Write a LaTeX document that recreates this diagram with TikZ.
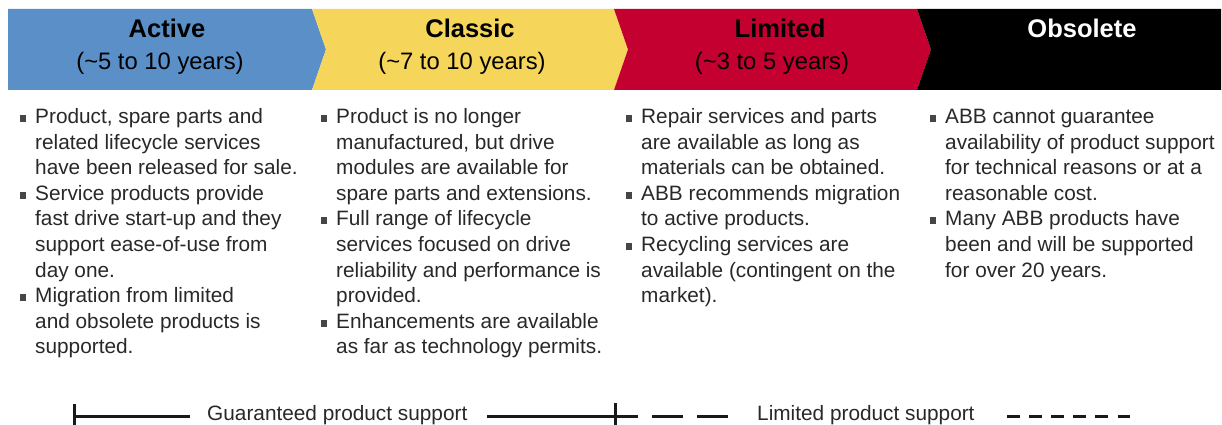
\documentclass[tikz,border=0pt]{standalone}
\usepackage{fontspec}
\setmainfont{Liberation Sans}
\definecolor{actblue}{RGB}{91,143,199}
\definecolor{clsyel}{RGB}{245,214,90}
\definecolor{limred}{RGB}{195,0,47}
\definecolor{bodytxt}{RGB}{40,40,40}
\definecolor{bulgray}{RGB}{70,70,70}
\newcommand\mycolumn[3]{%
  \foreach \bul/\txt [count=\i] in {#3}{%
    \pgfmathsetmacro\yy{123.5+(\i-1)*25.6}%
    \node[bodytext] (#2\i) at (#1,\yy) {\txt};%
    \ifnum\bul=1 \fill[bulgray] (#1-15.5,\yy-1.6) rectangle (#1-8.6,\yy-8.5);\fi
  }}
\begin{document}
\begin{tikzpicture}[x=1pt,y=-1pt,
  bodytext/.style={anchor=base west,inner sep=0pt,text=bodytxt,font=\fontsize{20.8}{25}\selectfont},
  phasetitle/.style={anchor=base,inner sep=0pt,font=\bfseries\fontsize{25.5}{28}\selectfont},
  phasesub/.style={anchor=base,inner sep=0pt,font=\fontsize{23.8}{28}\selectfont},
  legtext/.style={anchor=base west,inner sep=0pt,text=bodytxt,font=\fontsize{20.8}{25}\selectfont},
  legline/.style={line width=3pt,black!90}]
\useasboundingbox (0,0) rectangle (1222,425);
% header chevrons
\fill[actblue] (8,9) -- (312,9) -- (326,49.5) -- (312,90) -- (8,90) -- cycle;
\fill[clsyel] (312,9) -- (614,9) -- (628,49.5) -- (614,90) -- (312,90) -- (326,49.5) -- cycle;
\fill[limred] (614,9) -- (917,9) -- (931,49.5) -- (917,90) -- (614,90) -- (628,49.5) -- cycle;
\fill[black] (917,9) -- (1221,9) -- (1221,90) -- (917,90) -- (931,49.5) -- cycle;
% titles
\node[phasetitle] (tact) at (167,37.5) {Active};
\node[phasesub] (sact) at (160,70) {(\textasciitilde 5 to 10 years)};
\node[phasetitle] (tcls) at (470,37.5) {Classic};
\node[phasesub] (scls) at (462,70) {(\textasciitilde 7 to 10 years)};
\node[phasetitle] (tlim) at (780,37.5) {Limited};
\node[phasesub] (slim) at (772,70) {(\textasciitilde 3 to 5 years)};
\node[phasetitle,text=white] (tobs) at (1082,37.5) {Obsolete};
% columns
\mycolumn{35}{ca}{1/{Product, spare parts and},0/{related lifecycle services},0/{have been released for sale.},1/{Service products provide},0/{fast drive start-up and they},0/{support ease-of-use from},0/{day one.},1/{Migration from limited},0/{and obsolete products is},0/{supported.}}
\mycolumn{336}{cb}{1/{Product is no longer},0/{manufactured, but drive},0/{modules are available for},0/{spare parts and extensions.},1/{Full range of lifecycle},0/{services focused on drive},0/{reliability and performance is},0/{provided.},1/{Enhancements are available},0/{as far as technology permits.}}
\mycolumn{641}{cc}{1/{Repair services and parts},0/{are available as long as},0/{materials can be obtained.},1/{ABB recommends migration},0/{to active products.},1/{Recycling services are},0/{available (contingent on the},0/{market).}}
\mycolumn{945}{cd}{1/{ABB cannot guarantee},0/{availability of product support},0/{for technical reasons or at a},0/{reasonable cost.},1/{Many ABB products have},0/{been and will be supported},0/{for over 20 years.}}
% legend
\coordinate (gstart) at (74,416);
\coordinate (gend) at (190,416);
\coordinate (gtop) at (74,404);
\coordinate (gbot) at (74,425);
\draw[legline] (gstart) -- (gend);
\draw[legline] (gtop) -- (gbot);
\node[legtext] (gtxt) at (207,420) {Guaranteed product support};
\coordinate (hstart) at (487,416);
\coordinate (hend) at (638,416);
\coordinate (htop) at (615,403);
\coordinate (hbot) at (615,425);
\coordinate (dstart) at (652,416);
\coordinate (dend) at (728,416);
\draw[legline] (hstart) -- (hend);
\draw[legline] (htop) -- (hbot);
\draw[legline,dash pattern=on 31pt off 14pt] (dstart) -- (dend);
\node[legtext] (ltxt) at (757,420) {Limited product support};
\coordinate (sstart) at (1007,416);
\coordinate (send) at (1130,416);
\draw[legline,dash pattern=on 12.5pt off 9.6pt] (sstart) -- (send);
\end{tikzpicture}
\end{document}
